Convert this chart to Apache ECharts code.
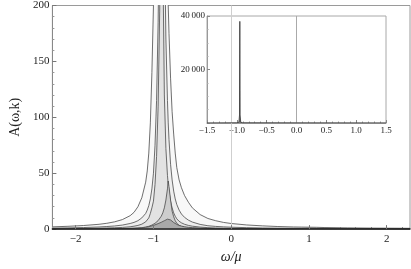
<!DOCTYPE html>
<html><head><meta charset="utf-8">
<script src="https://cdn.jsdelivr.net/npm/echarts@6/dist/echarts.min.js"></script>
<style>html,body{margin:0;padding:0;background:#fff}#c{width:411px;height:269px}</style>
</head><body><div id="c"></div>
<script>
// ---- data ----
const omega = [-2.3,-2.1,-1.9,-1.7,-1.6,-1.5,-1.4,-1.3,-1.25,-1.2,-1.15,-1.1,-1.08,-1.06,-1.04,-1.02,-1.0,-0.98,-0.96,-0.94,-0.92,-0.9,-0.88,-0.86,-0.84,-0.82,-0.81,-0.8,-0.78,-0.76,-0.74,-0.72,-0.7,-0.67,-0.64,-0.6,-0.55,-0.5,-0.4,-0.3,-0.2,-0.1,0,0.2,0.4,0.6,0.8,0.9,1.0,1.1,1.2,1.5,1.8,2.1,2.3];
const curve1 = [2,2.5,3.2,4.3,5.2,6.5,8.5,12,15,20,28,42,52,68,95,140,200,290,420,600,800,850,700,480,330,230,200,175,135,105,85,68,55,44,37,30,24,19,13,9.5,7.5,6,5,3.7,2.9,2.3,1.9,1.8,1.7,1.6,1.4,1.1,0.9,0.8,0.7];
const curve2 = [0.9,1.1,1.4,1.9,2.3,2.8,3.6,5,6,7.5,10,14,17,21,27,36,50,75,115,185,300,420,400,270,170,115,95,80,58,44,34,27,22,17,13.5,10.5,8,6.3,4.2,3,2.4,2,1.7,1.3,1,0.85,0.75,0.7,0.7,0.65,0.6,0.5,0.4,0.35,0.3];
const curve3 = [0.4,0.5,0.6,0.8,1,1.2,1.5,2.1,2.6,3.3,4.4,6.5,8,10,14,19,25,40,65,110,195,320,250,120,72,48,40,34,25,19,14.5,11.5,9.2,7,5.6,4.3,3.3,2.6,1.8,1.3,1,0.8,0.7,0.5,0.4,0.35,0.3,0.3,0.3,0.3,0.25,0.2,0.2,0.15,0.15];
const curve4 = [0.2,0.2,0.25,0.3,0.35,0.4,0.5,0.7,0.8,1,1.3,1.8,2.1,2.5,3,3.6,4.3,5.2,6.3,7.6,9.2,11.5,14.5,19,26,36,43,38,26,16,11,7.5,5.2,3.4,2.4,1.6,1.1,0.8,0.5,0.4,0.3,0.25,0.2,0.2,0.2,0.2,0.2,0.2,0.2,0.2,0.2,0.15,0.15,0.1,0.1];
const curve5 = [0.2,0.25,0.3,0.35,0.4,0.45,0.5,0.6,0.7,0.9,1.2,1.6,1.8,2.1,2.5,2.9,3.3,3.8,4.3,4.9,5.5,6.1,6.8,7.5,8.2,8.9,9.2,9.3,8.2,7,5.9,5,4.2,3.3,2.7,2.1,1.6,1.3,0.9,0.6,0.45,0.35,0.3,0.25,0.25,0.3,0.4,0.55,0.65,0.55,0.4,0.25,0.2,0.2,0.15];

const insetOmega = [-1.5,-1.0,-0.965,-0.955,-0.95,-0.945,-0.935,-0.9,1.5];
const insetValues = [0,50,300,3000,38000,3000,300,50,0];

const xMajorTicks = [-2,-1,0,1,2];
const xMinorTicks = [-2.2,-1.8,-1.6,-1.4,-1.2,-0.8,-0.6,-0.4,-0.2,0.2,0.4,0.6,0.8,1.2,1.4,1.6,1.8,2.2];
const yTicks = [0,50,100,150,200];
const insetXTicks = [-1.5,-1.0,-0.5,0.0,0.5,1.0,1.5];
const insetYTicks = [20000,40000];

const curves = [curve1, curve2, curve3, curve4, curve5];
const fills = ['#f8f8f8','#eeeeee','#e2e2e2','#cdcdcd','#a9a9a9'];

// ---- chart ----
const serif = '"Liberation Serif", "Times New Roman", serif';
const minus = s => String(s).replace('-', '\u2212');
const chart = echarts.init(document.getElementById('c'), null, {renderer: 'canvas'});

const mainSeries = curves.map((c, i) => ({
  type: 'line', xAxisIndex: 0, yAxisIndex: 0,
  data: omega.map((x, j) => [x, c[j]]),
  showSymbol: false, symbol: 'none', clip: true, z: 2 + i,
  lineStyle: {color: '#4a4a4a', width: 0.8},
  areaStyle: {color: fills[i], opacity: 1},
  markLine: i === 0 ? {silent: true, symbol: 'none', label: {show: false},
    lineStyle: {color: '#cfcfcf', width: 1, type: 'solid'}, data: [{xAxis: 0}]} : undefined
}));

const option = {
  animation: false,
  grid: [
    {left: 39, top: 5, width: 371, height: 229, show: true, borderColor: '#9a9a9a', borderWidth: 1, backgroundColor: '#fff'},
    {left: 207, top: 16, width: 179, height: 107, show: true, borderColor: '#a8a8a8', borderWidth: 1, backgroundColor: 'transparent'}
  ],
  xAxis: [
    {gridIndex: 0, type: 'value', min: -2.3, max: 2.3, position: 'bottom', z: 20,
     axisLine: {show: true, onZero: false, lineStyle: {color: '#222', width: 1.5}},
     axisTick: {show: true, inside: true, length: 4, customValues: xMajorTicks, lineStyle: {color: '#777'}},
     axisLabel: {customValues: xMajorTicks, formatter: v => minus(v), margin: 5, fontFamily: serif, fontSize: 11, color: '#222'},
     splitLine: {show: false},
     name: 'ω/μ', nameLocation: 'middle', nameGap: 15,
     nameTextStyle: {fontFamily: serif, fontStyle: 'italic', fontSize: 14, color: '#222'}},
    {gridIndex: 0, type: 'value', min: -2.3, max: 2.3, position: 'bottom',
     axisLine: {show: false, onZero: false},
     axisTick: {show: true, inside: true, length: 2, customValues: xMinorTicks, lineStyle: {color: '#888'}},
     axisLabel: {show: false}, splitLine: {show: false}},
    {gridIndex: 1, type: 'value', min: -1.5, max: 1.5, interval: 0.5, position: 'bottom',
     axisLine: {show: true, onZero: false, lineStyle: {color: '#999'}},
     axisTick: {show: true, inside: true, length: 3, lineStyle: {color: '#888'}},
     minorTick: {show: true, splitNumber: 5, length: 1.5, lineStyle: {color: '#999'}},
     axisLabel: {formatter: v => minus(v.toFixed(1)), margin: 3, fontFamily: serif, fontSize: 9, color: '#222'},
     splitLine: {show: false}}
  ],
  yAxis: [
    {gridIndex: 0, type: 'value', min: 0, max: 200, interval: 50,
     axisLine: {show: true, onZero: false, lineStyle: {color: '#888'}},
     axisTick: {show: true, inside: true, length: 4, lineStyle: {color: '#777'}},
     minorTick: {show: true, splitNumber: 5, length: 2, lineStyle: {color: '#999'}},
     axisLabel: {margin: 3, fontFamily: serif, fontSize: 11, color: '#222'},
     splitLine: {show: false},
     name: 'A(ω,k)', nameLocation: 'middle', nameGap: 25, nameRotate: 90,
     nameTextStyle: {fontFamily: serif, fontSize: 14, color: '#222'}},
    {gridIndex: 1, type: 'value', min: 0, max: 40000, interval: 20000,
     axisLine: {show: true, onZero: false, lineStyle: {color: '#999'}},
     axisTick: {show: true, inside: true, length: 3, lineStyle: {color: '#888'}},
     minorTick: {show: true, splitNumber: 4, length: 1.5, lineStyle: {color: '#aaa'}},
     axisLabel: {showMinLabel: false, margin: 2, fontFamily: serif, fontSize: 9, color: '#222',
       formatter: v => insetYTicks.indexOf(v) >= 0 ? String(v / 1000) + '\u2009000' : ''},
     splitLine: {show: false}}
  ],
  series: mainSeries.concat([
    {type: 'line', xAxisIndex: 2, yAxisIndex: 1, z: 10,
     data: insetOmega.map((x, j) => [x, insetValues[j]]),
     showSymbol: false, symbol: 'none',
     lineStyle: {color: '#333', width: 0.8},
     areaStyle: {color: '#777', opacity: 1},
     markLine: {silent: true, symbol: 'none', label: {show: false},
       lineStyle: {color: '#aaa', width: 1, type: 'solid'}, data: [{xAxis: 0}]}}
  ])
};
chart.setOption(option);
</script>
</body></html>
